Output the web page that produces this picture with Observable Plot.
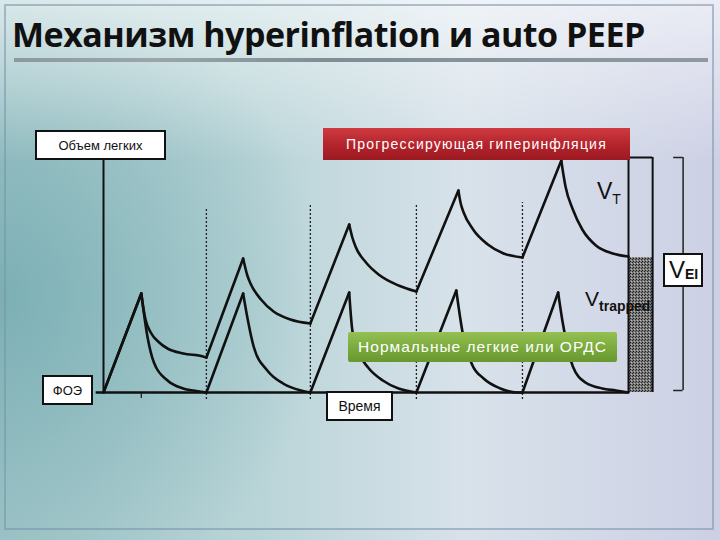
<!DOCTYPE html>
<html>
<head>
<meta charset="utf-8">
<script src="https://cdn.jsdelivr.net/npm/d3@7"></script>
<script src="https://cdn.jsdelivr.net/npm/@observablehq/plot@0.6"></script>
<style>
  html, body { margin: 0; padding: 0; }
  #slide {
    position: relative; width: 720px; height: 540px; overflow: hidden;
    background:
      linear-gradient(180deg, rgba(255,255,255,0.6) 0%, rgba(255,255,255,0) 30%),
      radial-gradient(ellipse 45% 60% at 0% 55%, rgba(110,168,174,0.75) 0%, rgba(110,168,174,0) 100%),
      linear-gradient(90deg, #a4c7ca 0%, #b8d4d7 35%, #d8e2ea 65%, #cdd0e5 100%);
    font-family: "Liberation Sans", Arial, sans-serif;
  }
  #frame { position: absolute; left: 4px; top: 4px; width: 710px; height: 526px;
    border: 2px solid rgba(120,145,170,0.55); box-sizing: border-box; }
  #title { position: absolute; left: 12px; top: 17px; margin: 0; line-height: 1;
    font-family: "Open Sans", sans-serif; font-weight: 700; font-size: 34px;
    color: #111; letter-spacing: -0.5px; white-space: nowrap; }
  #bar { position: absolute; left: 14px; top: 58px; width: 694px; height: 4px;
    background: linear-gradient(90deg, #8c9aa0 0%, #9aa6ab 20%, #7f8e95 45%, #8d9ba1 100%); }
  #chart { position: absolute; left: 0; top: 0; }
  .lbl { position: absolute; box-sizing: border-box; display: flex; align-items: center;
    justify-content: center; white-space: nowrap; z-index: 3; }
  .wbox { background: #fff; border: 2px solid #111; color: #111; font-size: 13px; }
  .red { background: linear-gradient(180deg, #cf3a40 0%, #b3232b 55%, #9c1a22 100%);
    color: #fff; font-size: 14px; letter-spacing: 1.2px; }
  .green { background: linear-gradient(180deg, #94c052 0%, #7aaa3c 55%, #689630 100%);
    color: #fff; font-size: 15.5px; letter-spacing: 1px; border-radius: 2px; }
  .vl { position: absolute; z-index: 3; color: #111; white-space: nowrap; font-family: "Liberation Sans", Arial, sans-serif; }
  .vl sub { font-weight: 700; vertical-align: baseline; position: relative; top: 0.35em; }
</style>
</head>
<body>
<div id="slide">
  <div id="frame"></div>
  <h1 id="title">Механизм hyperinflation и auto PEEP</h1>
  <div id="bar"></div>
  <div id="chart"></div>
  <div class="lbl wbox" style="left:35px;top:130px;width:131px;height:30px;">Объем легких</div>
  <div class="lbl red" style="left:323px;top:128px;width:307px;height:32px;">Прогрессирующая гиперинфляция</div>
  <div class="lbl green" style="left:348px;top:332px;width:269px;height:30px;">Нормальные легкие или ОРДС</div>
  <div class="lbl wbox" style="left:42px;top:375px;width:51px;height:30px;">ФОЭ</div>
  <div class="lbl wbox" style="left:326px;top:391px;width:67px;height:30px;font-size:14px;">Время</div>
  <div class="vl" style="left:597px;top:178px;font-size:23px;">V<sub style="font-size:14px;font-weight:400;">T</sub></div>
  <div class="vl" style="left:585px;top:287px;font-size:21px;">V<sub style="font-size:14px;">trapped</sub></div>
  <div class="lbl wbox" style="left:663px;top:253px;width:40px;height:34px;font-size:24px;justify-content:flex-start;padding-left:4px;">V<sub style="font-size:14px;font-weight:700;position:relative;top:0.3em;">EI</sub></div>
</div>
<script>
// ---- data (time in breath cycles, volume in arbitrary units above FRC) ----
const cycleStarts = [0.98, 1.97, 2.98, 3.99];
const dashTops = [185, 188, 187, 190];
const extraTicks = [0.36];
const trapEnd = 5.0;          // end of recording
const boxRight = 5.23;
const trappedVolume = 135;
const totalVolume = 235;

// progressive hyperinflation trace, segments (inspiration / expiration)
const hyperSegments = [
  [[0, 0], [0.36, 99]],
  [[0.36, 99], [0.38, 84], [0.40, 73], [0.45, 60], [0.53, 50], [0.61, 44], [0.76, 39], [0.95, 36], [0.98, 35]],
  [[0.98, 35], [1.33, 134]],
  [[1.33, 134], [1.37, 117], [1.40, 109], [1.50, 93], [1.62, 81], [1.78, 73], [1.97, 69]],
  [[1.97, 69], [2.34, 168]],
  [[2.34, 168], [2.37, 155], [2.40, 146], [2.50, 130], [2.62, 118], [2.81, 107], [2.98, 101]],
  [[2.98, 101], [3.38, 202]],
  [[3.38, 202], [3.40, 190], [3.43, 180], [3.52, 163], [3.66, 148], [3.81, 139], [3.99, 135]],
  [[3.99, 135], [4.36, 232]],
  [[4.36, 232], [4.38, 218], [4.40, 206], [4.47, 183], [4.56, 163], [4.69, 147], [4.85, 139], [5.00, 136]]
];

// normal lungs / ARDS trace
const normalSegments = [
  [[0, 0], [0.36, 99]],
  [[0.36, 99], [0.42, 55], [0.48, 30], [0.61, 12], [0.76, 4], [0.92, 1], [0.98, 0]],
  [[0.98, 0], [1.33, 99]],
  [[1.33, 99], [1.37, 75], [1.43, 46], [1.56, 22], [1.71, 9], [1.88, 2], [1.97, 0]],
  [[1.97, 0], [2.34, 100]],
  [[2.34, 100], [2.37, 62], [2.43, 40], [2.52, 25], [2.66, 12], [2.81, 4], [2.98, 0]],
  [[2.98, 0], [3.36, 102]],
  [[3.36, 102], [3.42, 60], [3.51, 28], [3.62, 14], [3.78, 4], [3.94, 0], [3.99, 0]],
  [[3.99, 0], [4.33, 100]],
  [[4.33, 100], [4.37, 72], [4.40, 55], [4.47, 26], [4.59, 10], [4.75, 4], [4.88, 2], [5.00, 0]]
];

function flatten(segs, name) {
  const out = [];
  segs.forEach((s, i) => s.forEach(([t, v]) => out.push({t, v, seg: name + i})));
  return out;
}
const hyperRows = flatten(hyperSegments, "h");
const normalRows = flatten(normalSegments, "n");
const dashRows = cycleStarts.map((t, i) => ({t, top: dashTops[i]}));

const chart = Plot.plot({
  width: 720, height: 540,
  marginLeft: 103, marginRight: 92, marginTop: 157, marginBottom: 148,
  x: {domain: [0, 5], axis: null},
  y: {domain: [0, 235], axis: null},
  style: {background: "transparent", overflow: "visible"},
  marks: [
    Plot.rect([{x1: trapEnd, x2: boxRight, y1: 0, y2: trappedVolume}],
      {x1: "x1", x2: "x2", y1: "y1", y2: "y2", fill: "url(#stipple)"}),
    Plot.ruleX([trapEnd, boxRight], {y1: 0, y2: totalVolume, stroke: "#111", strokeWidth: 2}),
    Plot.ruleY([totalVolume], {x1: trapEnd, x2: boxRight, stroke: "#111", strokeWidth: 2}),
    Plot.ruleX([5.52], {y1: 2, y2: totalVolume, stroke: "#222", strokeWidth: 1.5}),
    Plot.ruleY([2, totalVolume], {x1: 5.43, x2: 5.52, stroke: "#222", strokeWidth: 1.5}),
    Plot.ruleX(dashRows, {x: "t", y1: -7, y2: "top", stroke: "#222", strokeWidth: 1.3, strokeDasharray: "2,2"}),
    Plot.ruleX(extraTicks, {y1: -6, y2: 0, stroke: "#222", strokeWidth: 1.3}),
    Plot.ruleX([0], {y1: 0, y2: 232, stroke: "#111", strokeWidth: 2}),
    Plot.ruleY([0], {x1: -0.07, x2: trapEnd, stroke: "#111", strokeWidth: 2.5}),
    Plot.line(normalRows, {x: "t", y: "v", z: "seg", curve: "monotone-x", stroke: "#111", strokeWidth: 2.6, strokeLinejoin: "miter"}),
    Plot.line(hyperRows, {x: "t", y: "v", z: "seg", curve: "monotone-x", stroke: "#111", strokeWidth: 2.6, strokeLinejoin: "miter"})
  ]
});

d3.select(chart).insert("defs", ":first-child").html(
  `<pattern id="stipple" width="3" height="3" patternUnits="userSpaceOnUse">
     <rect width="3" height="3" fill="#7a7a7a"/>
     <rect width="1" height="1" fill="#1e1e1e"/>
     <rect x="2" y="1" width="1" height="1" fill="#2e2e2e"/>
     <rect x="1" y="2" width="1" height="1" fill="#bbb"/>
   </pattern>`);
document.getElementById("chart").appendChild(chart);
</script>
</body>
</html>
